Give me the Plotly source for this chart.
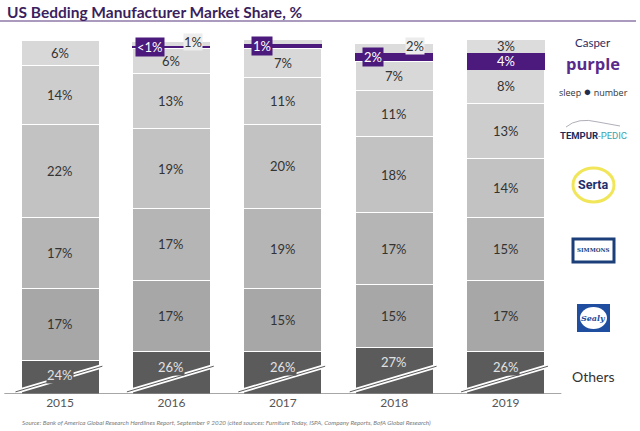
import plotly.graph_objects as go

# ---------------- data ----------------
years = ["2015", "2016", "2017", "2018", "2019"]
others = [24, 26, 26, 27, 26]
sealy = [17, 17, 15, 15, 17]
simmons = [17, 17, 19, 17, 15]
serta = [22, 19, 20, 18, 14]
tempur = [14, 13, 11, 11, 13]
sleep_number = [6, 6, 7, 7, 8]
purple = [0, 0.5, 1, 2, 4]
casper = [0, 1, 2, 2, 3]
purple_text = ["", "<1%", "1%", "2%", "4%"]
casper_text = ["", "1%", "2%", "2%", "3%"]

AXIS_BREAK = 16  # value where the broken axis starts

W, H = 640, 431
T, B = 40, 37
PLOT_H = H - T - B


def px(x):
    return x / W


def py(y):
    return (H - B - y) / PLOT_H


FONT = "Lato"
xs = list(range(len(years)))

series = [
    ("Others", others, "#5b5b5b", 1),
    ("Sealy", sealy, "#a7a7a7", 1),
    ("Simmons", simmons, "#b5b5b5", 1),
    ("Serta", serta, "#c2c2c2", 1),
    ("Tempur-Pedic", tempur, "#cdcdcd", 1),
    ("Sleep Number", sleep_number, "#d8d8d8", 1),
    ("Purple", purple, "#4b1a7c", 0),
    ("Casper", casper, "#dcdcdc", 0),
]

fig = go.Figure()
for name, vals, col, lw in series:
    fig.add_trace(go.Bar(
        x=xs, y=vals, name=name, width=0.7,
        marker=dict(color=col, line=dict(color="white", width=lw)),
        hoverinfo="skip",
    ))

annotations = []
shapes = []

# segment labels
base = [0] * len(years)
for name, vals, col, lw in series:
    for i, v in enumerate(vals):
        b0 = base[i]
        top = b0 + v
        mid = b0 + v / 2
        if name == "Others":
            annotations.append(dict(
                x=i, y=top - 3.5, text=f"{v}%", showarrow=False,
                font=dict(family=FONT, size=13, color="#e2e2e2"),
                bgcolor=col, borderpad=0))
        elif name in ("Purple", "Casper"):
            if v <= 0:
                continue
            txt = purple_text[i] if name == "Purple" else casper_text[i]
            if v >= 3:
                annotations.append(dict(
                    x=i, y=mid, text=txt, showarrow=False,
                    font=dict(family=FONT, size=13,
                              color="white" if name == "Purple" else "#333333")))
            else:
                if name == "Purple":
                    annotations.append(dict(
                        x=i - 0.19, y=mid, text=txt, showarrow=False,
                        font=dict(family=FONT, size=13, color="white"),
                        bgcolor="#4b1a7c", borderpad=1))
                else:
                    annotations.append(dict(
                        x=i + 0.19, y=mid + 0.5, text=txt, showarrow=False,
                        font=dict(family=FONT, size=13, color="#333333"),
                        bgcolor="#ececec", borderpad=0))
        else:
            annotations.append(dict(
                x=i, y=mid, text=f"{v}%", showarrow=False,
                font=dict(family=FONT, size=13, color="#333333")))
        base[i] = top

# axis-break marks on the Others segment
for i in xs:
    shapes.append(dict(type="line", xref="x", yref="y",
                       x0=i - 0.40, y0=AXIS_BREAK + 0.5, x1=i + 0.38, y1=AXIS_BREAK + 6.6,
                       line=dict(color="white", width=4.5)))
    shapes.append(dict(type="line", xref="x", yref="y",
                       x0=i - 0.40, y0=AXIS_BREAK + 0.5, x1=i + 0.38, y1=AXIS_BREAK + 6.6,
                       line=dict(color="#5b5b5b", width=1)))

# baseline
shapes.append(dict(type="line", xref="x", yref="y",
                   x0=-0.5, x1=len(years) - 0.5, y0=AXIS_BREAK, y1=AXIS_BREAK,
                   line=dict(color="#8a8a8a", width=1.5), layer="above"))

# title and underline
annotations.append(dict(
    xref="paper", yref="paper", x=px(5), y=py(12), xanchor="left", yanchor="middle",
    text="<b>US Bedding Manufacturer Market Share, %</b>", showarrow=False,
    font=dict(family=FONT, size=15.5, color="#3b1f5e")))
shapes.append(dict(type="line", xref="paper", yref="paper",
                   x0=0, x1=px(636), y0=py(21), y1=py(21),
                   line=dict(color="#8e7aa8", width=1.5)))

# brand labels (right side)
LX = px(593)


def brand(y, text, family, size, color):
    return dict(xref="paper", yref="paper", x=LX, y=py(y), xanchor="center",
                yanchor="middle", text=text, showarrow=False, borderpad=0,
                font=dict(family=family, size=size, color=color))


annotations += [
    brand(43, "Casper", FONT, 11.5, "#2d2d5e"),
    brand(63, "<b>purple</b>", "Open Sans", 16.5, "#5a2a8a"),
    brand(91, "sleep <span style='color:#1f2b4f;font-size:13px'>●</span> number",
          "Open Sans", 9, "#333333"),
    brand(135, "<b>TEMPUR</b><span style='color:#3aa2ad'>-PEDIC</span>",
          "Roboto", 9.5, "#1c2d5a"),
    brand(185, "<b>Serta</b>", "Roboto", 12.5, "#1f2f6b"),
    brand(250, "<b>SIMMONS</b>", "DejaVu Serif", 5.5, "#1c3f7a"),
    brand(318, "<b><i>Sealy</i></b>", "DejaVu Serif", 8, "#1f4ea0"),
    brand(376, "Others", FONT, 14, "#333333"),
]

# logo decorations
shapes += [
    # tempur sleeping-figure line
    dict(type="path", xref="paper", yref="paper",
         path=f"M {px(566)},{py(127)} Q {px(578)},{py(117)} {px(598)},{py(122)} L {px(620)},{py(126)}",
         line=dict(color="#9a9aa8", width=0.8)),
    # serta oval
    dict(type="circle", xref="paper", yref="paper",
         x0=px(573), x1=px(614), y0=py(202), y1=py(168),
         line=dict(color="#f1e65a", width=3)),
    # simmons badge
    dict(type="rect", xref="paper", yref="paper",
         x0=px(573), x1=px(614), y0=py(262), y1=py(239),
         line=dict(color="#1c3f7a", width=3), fillcolor="white"),
    # sealy bow
    dict(type="rect", xref="paper", yref="paper",
         x0=px(577), x1=px(610), y0=py(332), y1=py(304),
         line=dict(color="#1f4ea0", width=0), fillcolor="#1f4ea0"),
    dict(type="circle", xref="paper", yref="paper",
         x0=px(580), x1=px(607), y0=py(329), y1=py(307),
         line=dict(color="white", width=0), fillcolor="white"),
]

# source line
annotations.append(dict(
    xref="paper", yref="paper", x=px(20), y=py(422), xanchor="left", yanchor="middle",
    text="<i>Source: Bank of America Global Research Hardlines Report, September 9 2020 (cited sources: "
         "Furniture Today, ISPA, Company Reports, BofA Global Research)</i>",
    showarrow=False, font=dict(family=FONT, size=6.3, color="#7a7a7a")))

fig.update_layout(
    width=W, height=H,
    margin=dict(l=0, r=0, t=T, b=B),
    barmode="stack",
    showlegend=False,
    plot_bgcolor="white", paper_bgcolor="white",
    annotations=annotations, shapes=shapes,
    xaxis=dict(range=[-0.539, 5.206], tickvals=xs, ticktext=years, showgrid=False,
               zeroline=False, showline=False, ticks="",
               tickfont=dict(family=FONT, size=12, color="#555555")),
    yaxis=dict(range=[AXIS_BREAK, 100], visible=False, showgrid=False, zeroline=False),
)

fig.write_html("out.html")
